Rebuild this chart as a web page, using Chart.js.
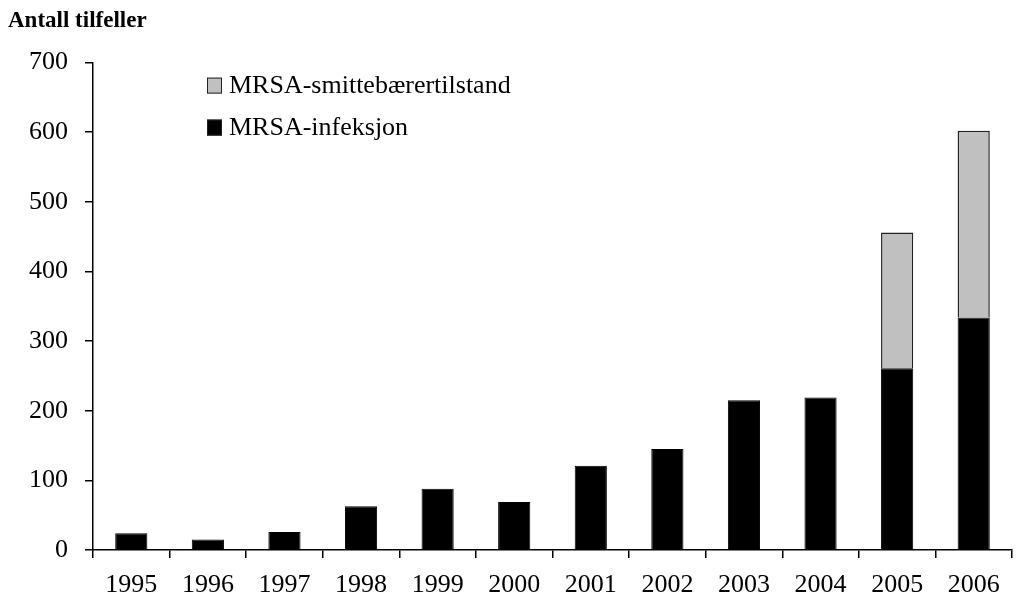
<!DOCTYPE html>
<html>
<head>
<meta charset="utf-8">
<script src="https://cdn.jsdelivr.net/npm/chart.js@4.4.0/dist/chart.umd.min.js"></script>
<style>
  html, body { margin: 0; padding: 0; background: #fff; }
  #wrap { width: 1017px; height: 602px; }
</style>
</head>
<body>
<div id="wrap"><canvas id="c" width="1017" height="602"></canvas></div>
<script>
const years = ['1995','1996','1997','1998','1999','2000','2001','2002','2003','2004','2005','2006'];
const infeksjon = [24, 15, 26, 63, 88, 69, 121, 145, 215, 219, 261, 334];
const smittebaerer = [null, null, null, null, null, null, null, null, null, null, 195, 268];
const yTicks = [0, 100, 200, 300, 400, 500, 600, 700];
const seriesNames = ['MRSA-infeksjon', 'MRSA-smittebærertilstand'];
const titleText = 'Antall tilfeller';

const FONT = "'Liberation Serif', 'Times New Roman', serif";

const legendPlugin = {
  id: 'customLegend',
  afterDraw(chart) {
    const ctx = chart.ctx;
    const ca = chart.chartArea;
    const order = [1, 0];
    ctx.save();
    ctx.font = '26px ' + FONT;
    ctx.textBaseline = 'middle';
    ctx.textAlign = 'left';
    order.forEach((di, i) => {
      const ds = chart.data.datasets[di];
      const x = ca.left + 114;
      const cy = ca.top + 23 + i * 42;
      ctx.fillStyle = ds.backgroundColor;
      ctx.fillRect(x, cy - 8, 15, 16);
      ctx.strokeStyle = '#222';
      ctx.lineWidth = 1;
      ctx.strokeRect(x + 0.5, cy - 7.5, 14, 15);
      ctx.fillStyle = '#000';
      ctx.fillText(ds.label, x + 22, cy + 1);
    });
    ctx.restore();
  }
};

new Chart(document.getElementById('c'), {
  type: 'bar',
  data: {
    labels: years,
    datasets: [
      {
        label: seriesNames[0],
        data: infeksjon,
        backgroundColor: '#000000',
        borderColor: '#000000',
        borderWidth: 1,
        categoryPercentage: 0.84,
        barPercentage: 0.5
      },
      {
        label: seriesNames[1],
        data: smittebaerer,
        backgroundColor: '#c0c0c0',
        borderColor: '#222222',
        borderWidth: 1.5,
        categoryPercentage: 0.84,
        barPercentage: 0.5
      }
    ]
  },
  options: {
    responsive: false,
    animation: false,
    layout: { padding: { left: 8, right: 5, top: 0, bottom: 0 } },
    plugins: {
      legend: { display: false },
      tooltip: { enabled: false },
      title: {
        display: true,
        text: titleText,
        align: 'start',
        color: '#000',
        font: { family: FONT, size: 23, weight: 'bold' },
        padding: { top: 7, bottom: 28 }
      }
    },
    scales: {
      x: {
        stacked: true,
        afterFit(scale) { scale.height = 52; },
        border: { color: '#000', width: 1.5 },
        grid: { offset: true, drawOnChartArea: false, tickLength: 8, color: '#000', lineWidth: 1.5 },
        ticks: { color: '#000', font: { family: FONT, size: 26 }, padding: 12, maxRotation: 0 }
      },
      y: {
        stacked: true,
        min: 0,
        max: 700,
        afterFit(scale) { scale.width = 85; },
        afterBuildTicks(scale) { scale.ticks = yTicks.map(v => ({ value: v })); },
        border: { color: '#000', width: 1.5 },
        grid: { drawOnChartArea: false, tickLength: 8, color: '#000', lineWidth: 1.5 },
        ticks: { color: '#000', font: { family: FONT, size: 26 }, padding: 17 }
      }
    }
  },
  plugins: [legendPlugin]
});
</script>
</body>
</html>
